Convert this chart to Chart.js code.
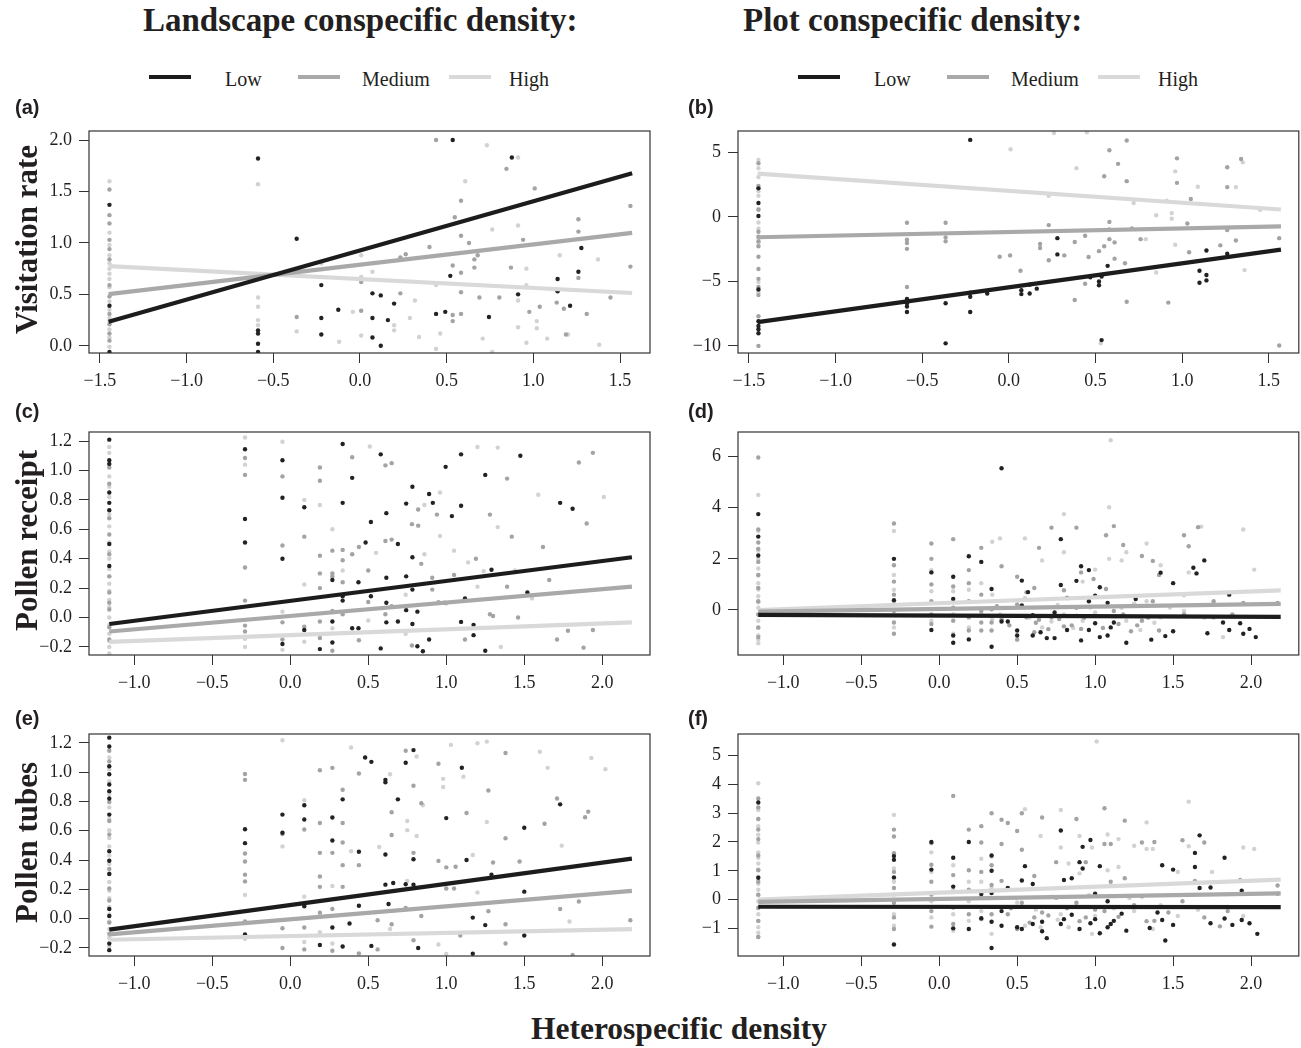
<!DOCTYPE html>
<html>
<head>
<meta charset="utf-8">
<script src="https://cdn.jsdelivr.net/npm/chart.js@4.4.0/dist/chart.umd.min.js"></script>
<style>
body{margin:0;background:#fff;width:1301px;height:1048px;position:relative;overflow:hidden;color:#231f20;}
canvas{position:absolute;}
.t{position:absolute;white-space:nowrap;font-family:"Liberation Serif",serif;}
.ttl{font-weight:bold;font-size:33px;line-height:33px;top:4px;}
.leg{font-size:20px;line-height:20px;top:69px;}
.ln{position:absolute;height:4px;top:75px;}
.lab{position:absolute;font-family:"Liberation Sans",Arial,sans-serif;font-weight:bold;font-size:20px;line-height:20px;}
.yt{font-weight:bold;font-size:31px;line-height:31px;width:300px;text-align:center;transform:rotate(-90deg);}
</style>
</head>
<body>

<div class="t ttl" style="left:143px">Landscape conspecific density:</div>
<div class="t ttl" style="left:743px">Plot conspecific density:</div>

<div class="ln" style="left:149px;width:42px;background:#1c1c1c"></div>
<div class="t leg" style="left:225px">Low</div>
<div class="ln" style="left:298px;width:42px;background:#a9a9a9"></div>
<div class="t leg" style="left:362px">Medium</div>
<div class="ln" style="left:449px;width:42px;background:#d9d9d9"></div>
<div class="t leg" style="left:509px">High</div>

<div class="ln" style="left:798px;width:42px;background:#1c1c1c"></div>
<div class="t leg" style="left:874px">Low</div>
<div class="ln" style="left:947px;width:42px;background:#a9a9a9"></div>
<div class="t leg" style="left:1011px">Medium</div>
<div class="ln" style="left:1098px;width:42px;background:#d9d9d9"></div>
<div class="t leg" style="left:1158px">High</div>

<canvas id="pa" width="655" height="280" style="left:0;top:115px"></canvas>
<canvas id="pb" width="652" height="280" style="left:649px;top:115px"></canvas>
<canvas id="pc" width="655" height="281" style="left:0;top:416px"></canvas>
<canvas id="pd" width="652" height="281" style="left:649px;top:416px"></canvas>
<canvas id="pe" width="655" height="280" style="left:0;top:718px"></canvas>
<canvas id="pf" width="652" height="280" style="left:649px;top:718px"></canvas>

<div class="lab" style="left:15px;top:97px">(a)</div>
<div class="lab" style="left:688px;top:97px">(b)</div>
<div class="lab" style="left:15px;top:401px">(c)</div>
<div class="lab" style="left:688px;top:401px">(d)</div>
<div class="lab" style="left:15px;top:708px">(e)</div>
<div class="lab" style="left:688px;top:708px">(f)</div>

<div class="t yt" style="left:-124px;top:224px">Visitation rate</div>
<div class="t yt" style="left:-124px;top:525px">Pollen receipt</div>
<div class="t yt" style="left:-124px;top:827px">Pollen tubes</div>

<div class="t" style="left:479px;width:400px;text-align:center;top:1013px;font-weight:bold;font-size:31.5px;line-height:32px">Heterospecific density</div>

<script>
// ---- tick values ----
var xTicksTop = [-1.5, -1, -0.5, 0, 0.5, 1, 1.5];
var xTicksLow = [-1, -0.5, 0, 0.5, 1, 1.5, 2];
var yTicksA = [0, 0.5, 1, 1.5, 2];
var yTicksB = [-10, -5, 0, 5];
var yTicksC = [-0.2, 0, 0.2, 0.4, 0.6, 0.8, 1.0, 1.2];
var yTicksD = [0, 2, 4, 6];
var yTicksE = [-0.2, 0, 0.2, 0.4, 0.6, 0.8, 1.0, 1.2];
var yTicksF = [-1, 0, 1, 2, 3, 4, 5];

// ---- (a) visitation rate, landscape ----
var a_low = [[-1.445,1.37],[-1.445,0.39],[-1.445,-0.06],[-0.588,1.82],[-0.588,0.15],[-0.588,0.12],[-0.588,0.02],[-0.588,-0.06],
  [-0.365,1.04],[-0.223,0.59],[-0.223,0.27],[-0.223,0.11],[-0.125,0.35],[0.072,0.51],[0.072,0.27],[0.072,0.08],[0.12,0.49],[0.12,0.0],
  [0.161,0.25],[0.197,0.41],[0.439,0.31],[0.492,0.33],[0.521,0.68],[0.535,2.0],[0.744,0.28],[0.876,1.83],[0.912,0.50],
  [1.14,0.65],[1.14,0.53],[1.212,0.39],[1.26,0.72],[1.277,0.95]];
var a_med = [[-1.445,1.52],[-1.445,1.27],[-1.445,1.19],[-1.445,1.03],[-1.445,0.94],[-1.445,0.84],[-1.445,0.59],[-1.445,0.48],[-1.445,0.31],
  [-1.445,0.21],[-1.445,0.12],[-1.445,0.05],[-0.365,0.28],[0.007,0.62],[0.007,0.34],[0.233,0.86],[0.233,0.51],[0.264,0.89],[0.401,0.96],
  [0.439,2.0],[0.535,0.78],[0.535,0.30],[0.535,0.24],[0.547,1.25],[0.583,1.41],[0.583,1.07],[0.583,0.71],[0.583,0.52],[0.583,0.31],
  [0.629,1.0],[0.66,0.84],[0.66,0.76],[0.679,0.88],[0.689,0.47],[0.804,0.47],[0.845,1.72],[0.871,0.76],[0.941,1.03],[0.977,0.33],
  [1.008,1.53],[1.037,0.38],[1.135,0.42],[1.176,0.36],[1.188,0.11],[1.26,1.23],[1.26,1.11],[1.26,0.66],[1.308,0.31],[1.445,0.47],
  [1.56,1.36],[1.56,0.77]];
var a_high = [[-1.445,1.6],[-1.445,1.1],[-1.445,0.88],[-1.445,0.75],[-1.445,0.65],[-1.445,0.43],[-1.445,0.35],[-1.445,0.24],[-1.445,-0.01],
  [-1.445,0.98],[-1.445,0.8],[-1.445,0.7],[-1.445,0.57],[-1.445,0.27],[-1.445,0.16],[-1.445,0.08],
  [-0.588,1.57],[-0.588,0.47],[-0.588,0.38],[-0.588,0.25],[-0.588,0.2],[-0.365,0.14],[-0.223,0.8],[-0.12,0.04],[-0.041,0.33],
  [0.007,0.88],[0.007,0.67],[0.007,0.10],[0.072,0.72],[0.197,0.15],[0.197,0.2],[0.288,0.27],[0.317,0.44],[0.341,0.085],
  [0.439,0.59],[0.439,-0.03],[0.463,0.12],[0.607,1.6],[0.708,0.07],[0.732,1.95],[0.763,1.13],[0.763,-0.06],[0.912,1.83],
  [0.912,1.17],[0.912,0.44],[0.912,0.18],[0.96,0.75],[0.96,0.59],[0.96,0.03],[1.02,0.24],[1.02,0.17],[1.08,0.07],
  [1.152,0.88],[1.2,0.11],[1.373,0.84],[1.38,0.01]];
var a_fit_low = [[-1.45,0.234],[1.57,1.677]];
var a_fit_med = [[-1.45,0.503],[1.57,1.098]];
var a_fit_high = [[-1.45,0.775],[1.57,0.513]];

// ---- (b) visitation rate, plot ----
var b_low = [[-1.445,2.22],[-1.445,1.09],[-1.445,0.08],[-1.445,-5.63],[-1.445,-8.08],[-1.445,-8.46],[-1.445,-8.71],[-1.445,-9.02],
  [-0.588,-6.36],[-0.588,-6.69],[-0.588,-6.94],[-0.588,-7.37],[-0.365,-6.69],[-0.365,-9.8],[-0.223,5.98],[-0.223,-5.88],
  [-0.223,-6.19],[-0.223,-7.37],[-0.125,-5.93],[0.072,-5.68],[0.072,-5.98],[0.12,-5.93],[0.12,-5.25],[0.161,-5.56],
  [0.28,-1.64],[0.28,-2.9],[0.47,-4.67],[0.52,-5.0],[0.52,-5.3],[0.535,-4.62],[0.535,-9.55],[0.57,-3.79],
  [1.1,-4.17],[1.1,-5.1],[1.14,-2.6],[1.14,-4.5],[1.14,-4.92],[1.26,-2.85]];
var b_med = [[-1.445,4.17],[-1.445,2.4],[-1.445,0.56],[-1.445,-1.14],[-1.445,-1.52],[-1.445,-1.89],[-1.445,-2.27],[-1.445,-3.08],
  [-1.445,-4.04],[-1.445,-4.8],[-1.445,-5.43],[-1.445,-6.06],[-1.445,-7.7],[-1.445,-10.0],[-0.588,-0.45],[-0.588,-1.77],
  [-0.588,-2.02],[-0.588,-2.47],[-0.588,-5.43],[-0.365,-0.45],[-0.365,-1.59],[-0.365,-1.89],[-0.053,-3.08],[0.007,-2.98],
  [0.067,-4.17],[0.18,-2.1],[0.18,-2.4],[0.23,-0.63],[0.23,-3.36],[0.32,-2.98],[0.38,-1.94],[0.38,-6.44],[0.44,-1.46],
  [0.44,-5.18],[0.46,-3.1],[0.52,-2.65],[0.55,3.16],[0.55,-2.27],[0.58,5.18],[0.58,-0.38],[0.58,-0.96],[0.58,-1.72],
  [0.61,-1.97],[0.61,-3.23],[0.63,4.12],[0.67,-3.59],[0.68,5.93],[0.68,2.78],[0.68,-6.57],[0.71,-0.88],[0.76,-1.72],
  [0.92,-6.64],[0.97,4.55],[0.97,2.65],[1.03,-0.5],[1.04,-2.73],[1.05,1.39],[1.22,-2.2],[1.26,3.86],[1.26,2.32],
  [1.26,-1.01],[1.31,-1.82],[1.34,4.5],[1.56,-1.64],[1.56,-9.97]];
var b_high = [[-1.445,4.42],[-1.445,3.79],[-1.445,1.64],[-1.445,0.63],[-1.445,-0.43],[-1.445,-1.64],[-1.445,-5.05],[-1.445,-5.86],
  [-1.445,3.1],[-1.445,2.0],[-1.445,-0.9],[-1.445,-2.0],
  [0.01,5.25],[0.23,1.64],[0.26,6.52],[0.39,3.79],[0.45,6.57],[0.53,-9.8],[0.72,1.09],[0.79,-1.72],[0.85,0.13],[0.85,-4.3],
  [0.91,1.26],[0.94,0.3],[0.94,-0.13],[0.96,3.54],[0.96,-2.15],[1.09,2.35],[1.31,2.32],[1.35,4.24],[1.36,-4.12],[1.45,0.56]];
var b_fit_low = [[-1.45,-8.16],[1.57,-2.53]];
var b_fit_med = [[-1.45,-1.57],[1.57,-0.73]];
var b_fit_high = [[-1.45,3.36],[1.57,0.58]];

// ---- (c) pollen receipt, landscape ----
var c_low = [[-1.16,1.21],[-1.16,1.07],[-1.16,1.045],[-1.16,0.85],[-1.16,0.78],[-1.16,0.73],[-1.16,0.50],[-1.16,0.35],
  [-0.29,1.145],[-0.29,0.67],[-0.29,0.51],[-0.05,1.07],[-0.05,0.815],[-0.05,0.40],[-0.05,-0.18],[0.09,0.75],[0.09,-0.085],
  [0.19,-0.215],[0.27,0.255],[0.27,-0.027],[0.27,-0.17],[0.336,1.18],[0.336,0.78],[0.336,0.145],[0.336,0.115],
  [0.397,0.95],[0.397,-0.073],[0.437,0.24],[0.437,-0.073],[0.483,0.51],[0.517,0.65],[0.517,0.145],[0.58,1.11],[0.58,-0.21],
  [0.616,0.71],[0.616,0.27],[0.616,0.10],[0.616,-0.033],[0.69,0.50],[0.69,-0.027],[0.743,0.775],[0.743,0.28],[0.743,0.05],
  [0.783,0.89],[0.783,0.41],[0.783,0.19],[0.783,-0.044],[0.815,0.04],[0.815,-0.195],[0.85,-0.23],[0.89,0.84],[0.89,-0.15],
  [0.914,0.78],[0.996,1.025],[1.036,0.69],[1.095,1.11],[1.095,0.76],[1.095,-0.03],[1.12,0.13],[1.175,-0.05],[1.175,-0.12],
  [1.25,0.97],[1.25,-0.226],[1.29,0.325],[1.475,1.1],[1.52,0.17],[1.73,0.78],[1.81,0.74]];
var c_med = [[-1.16,1.02],[-1.16,0.91],[-1.16,0.675],[-1.16,0.565],[-1.16,0.43],[-1.16,0.28],[-1.16,0.17],[-1.16,0.1],[-1.16,0.055],
  [-1.16,-0.066],[-1.16,-0.15],[-0.29,1.085],[-0.29,0.97],[-0.29,0.34],[-0.29,0.115],[-0.29,-0.055],[-0.29,-0.095],
  [-0.05,0.96],[-0.05,0.49],[-0.05,-0.033],[-0.05,-0.15],[0.09,0.55],[0.09,-0.062],[0.19,1.02],[0.19,0.93],[0.19,0.42],
  [0.19,0.30],[0.19,0.2],[0.19,-0.027],[0.19,-0.14],[0.27,0.455],[0.27,0.30],[0.27,0.28],[0.27,0.044],[0.27,-0.226],
  [0.336,0.46],[0.336,0.39],[0.336,0.24],[0.336,0.022],[0.397,1.09],[0.397,0.43],[0.44,0.48],[0.44,-0.155],[0.5,0.106],
  [0.5,0.32],[0.61,1.035],[0.61,0.52],[0.61,0.022],[0.65,1.05],[0.65,0.53],[0.65,0.077],[0.78,0.635],[0.78,-0.19],
  [0.82,0.735],[0.82,0.625],[0.84,0.365],[0.91,0.19],[0.91,0.27],[0.94,0.70],[0.95,0.104],[0.99,0.1],[1.05,0.29],
  [1.12,0.12],[1.12,-0.15],[1.19,0.40],[1.28,0.70],[1.28,0.022],[1.30,0.01],[1.39,0.945],[1.39,0.21],[1.42,0.55],
  [1.46,0.0],[1.62,0.48],[1.66,0.255],[1.71,-0.15],[1.78,-0.09],[1.85,1.055],[1.88,-0.205],[1.90,0.64],[1.94,1.12],[1.94,-0.085]];
var c_high = [[-1.16,0.96],[-1.16,0.82],[-1.16,0.62],[-1.16,0.51],[-1.16,0.40],[-1.16,0.33],[-1.16,0.23],[-1.16,0.12],[-1.16,0.0],
  [-1.16,-0.11],[-1.16,-0.2],[-1.16,-0.245],[-1.16,1.16],[-1.16,1.12],[-1.16,0.89],[-1.16,0.70],[-1.16,0.45],[-1.16,0.28],
  [-1.16,0.18],[-1.16,0.07],[-1.16,-0.05],[-1.16,-0.16],
  [-0.29,1.225],[-0.29,1.04],[-0.29,-0.145],[-0.29,-0.2],[-0.05,1.196],[-0.05,0.04],
  [-0.05,-0.22],[0.09,0.80],[0.09,0.225],[0.09,-0.165],[0.19,0.765],[0.19,-0.133],[0.27,0.6],[0.27,-0.073],[0.336,0.32],
  [0.5,-0.02],[0.51,1.163],[0.55,0.44],[0.74,0.155],[0.74,-0.11],[0.86,0.765],[0.86,0.43],[0.96,0.85],[0.96,0.555],[1.0,0.095],
  [1.05,0.455],[1.14,0.375],[1.2,1.16],[1.2,0.21],[1.24,0.315],[1.33,1.156],[1.33,0.615],[1.35,-0.2],[1.44,0.32],[1.55,0.13],
  [1.59,0.835],[2.01,0.82]];
var c_fit_low = [[-1.16,-0.044],[2.19,0.41]];
var c_fit_med = [[-1.16,-0.095],[2.19,0.21]];
var c_fit_high = [[-1.16,-0.166],[2.19,-0.033]];

// ---- (d) pollen receipt, plot ----
var d_low = [[-1.16,3.75],[-1.16,2.87],[-1.16,2.13],[-0.29,2.0],[-0.29,0.38],[-0.05,1.47],[-0.05,-0.78],[0.09,1.3],[0.09,0.43],
  [0.09,-1.0],[0.09,-1.28],[0.19,2.1],[0.19,-1.15],[0.27,1.88],[0.336,0.82],[0.336,-1.44],[0.40,5.54],[0.40,-0.45],[0.44,-0.45],
  [0.5,-0.8],[0.5,-1.0],[0.53,1.15],[0.53,0.18],[0.57,0.7],[0.6,-1.0],[0.6,-0.2],[0.65,-0.87],[0.69,-1.1],[0.74,-1.1],[0.74,-0.1],
  [0.78,0.98],[0.78,2.77],[0.82,-0.78],[0.82,0.47],[0.88,1.14],[0.88,-0.23],[0.91,-1.19],[0.91,1.71],[0.96,1.56],[0.96,0.34],
  [0.96,-0.78],[1.0,-0.52],[1.0,0.56],[1.03,0.89],[1.03,-1.06],[1.08,-1.0],[1.08,0.28],[1.1,-0.68],[1.12,-0.49],[1.2,-1.28],
  [1.26,0.43],[1.36,-1.16],[1.42,1.46],[1.45,-1.02],[1.5,1.05],[1.5,-0.83],[1.63,1.65],[1.65,1.43],[1.7,1.94],[1.72,-0.91],
  [1.82,-0.49],[1.86,0.6],[1.86,-0.78],[1.93,-0.52],[1.95,-0.93],[1.99,-0.74],[2.03,-1.06]];
var d_med = [[-1.16,5.96],[-1.16,3.15],[-1.16,2.64],[-1.16,2.39],[-1.16,1.88],[-1.16,1.37],[-1.16,0.86],[-1.16,0.34],[-1.16,-0.17],
  [-1.16,-0.68],[-1.16,-1.06],[-0.29,3.38],[-0.29,1.75],[-0.29,1.11],[-0.29,0.6],[-0.29,-0.04],[-0.29,-0.49],[-0.29,-0.93],
  [-0.05,2.6],[-0.05,2.0],[-0.05,1.0],[-0.05,0.34],[-0.05,-0.17],[-0.05,-0.55],[0.09,2.77],[0.09,0.92],[0.09,0.09],[0.09,-0.42],
  [0.19,1.56],[0.19,1.05],[0.19,0.34],[0.19,-0.29],[0.19,-0.8],[0.27,2.43],[0.27,0.6],[0.27,-0.04],[0.27,-0.49],[0.27,-0.8],
  [0.336,0.03],[0.336,-0.49],[0.336,-0.8],[0.37,0.15],[0.4,1.71],[0.4,-0.36],[0.5,1.3],[0.5,0.22],[0.5,-1.16],[0.56,0.69],
  [0.56,-0.29],[0.61,0.86],[0.61,-0.87],[0.64,2.43],[0.64,-0.38],[0.72,3.22],[0.72,-0.29],[0.8,0.77],[0.8,-0.64],[0.88,3.22],
  [0.88,0.09],[0.91,1.47],[0.91,-0.74],[0.99,1.21],[0.99,-0.23],[1.07,2.92],[1.07,0.82],[1.12,3.28],[1.12,-0.04],[1.18,2.54],
  [1.18,-0.17],[1.23,-0.83],[1.3,2.11],[1.3,-0.42],[1.37,1.92],[1.37,0.34],[1.41,1.37],[1.41,-0.8],[1.57,2.92],[1.57,-0.17],
  [1.6,2.49],[1.66,3.24],[1.76,0.34],[1.76,-0.29],[1.88,-0.17],[1.95,0.28],[2.17,0.28],
  [0.45,-0.6],[0.62,-0.5],[0.7,-0.75],[0.77,-0.35],[0.85,-0.6],[0.93,-0.3],[1.05,-0.7],[1.15,-0.55],[1.27,-0.6],[1.34,-0.3]];
var d_high = [[-1.16,4.5],[-1.16,2.32],[-1.16,1.62],[-1.16,1.05],[-1.16,0.54],[-1.16,0.09],[-1.16,-0.42],[-1.16,-1.0],[-1.16,-1.3],
  [-1.16,3.1],[-1.16,2.0],[-1.16,1.35],[-1.16,0.8],[-1.16,0.3],[-1.16,-0.2],[-1.16,-0.7],[-1.16,-1.15],
  [-0.29,3.09],[-0.29,1.37],[-0.29,0.79],[-0.29,0.28],[-0.29,-0.68],[-0.05,1.56],[-0.05,0.73],[-0.05,-0.42],[0.09,0.73],
  [0.09,-0.17],[0.09,-0.93],[0.19,0.79],[0.19,-0.68],[0.27,1.05],[0.27,-0.17],[0.34,2.67],[0.34,0.6],[0.34,-0.36],[0.39,2.8],
  [0.39,-0.17],[0.55,2.8],[0.55,0.47],[0.66,1.94],[0.66,-0.68],[0.8,3.75],[0.8,2.26],[0.8,-0.17],[0.92,1.11],[0.92,-0.42],
  [1.0,1.58],[1.0,-0.1],[1.09,4.02],[1.09,2.0],[1.1,6.64],[1.17,1.94],[1.17,0.09],[1.2,2.26],[1.2,-0.42],[1.29,-0.78],
  [1.33,2.6],[1.33,0.34],[1.42,1.75],[1.42,-0.29],[1.57,0.57],[1.57,-0.04],[1.6,1.47],[1.68,3.26],[1.82,-1.06],[1.95,3.15],[2.02,1.58],
  [0.58,-0.3],[0.72,-0.45],[0.76,0.2],[0.86,-0.7],[0.97,0.1],[1.13,-0.25],[1.25,0.25],[1.38,-0.5],[1.48,0.1],[1.7,-0.3]];
var d_fit_low = [[-1.16,-0.19],[2.19,-0.27]];
var d_fit_med = [[-1.16,-0.06],[2.19,0.24]];
var d_fit_high = [[-1.16,0.0],[2.19,0.77]];

// ---- (e) pollen tubes, landscape ----
var e_low = [[-1.16,1.235],[-1.16,1.175],[-1.16,1.04],[-1.16,0.985],[-1.16,0.915],[-1.16,0.87],[-1.16,0.82],[-1.16,0.71],[-1.16,0.46],
  [-1.16,0.395],[-1.16,0.305],[-1.16,0.066],[-1.16,0.018],[-1.16,-0.17],[-1.16,-0.215],[-0.29,0.61],[-0.29,0.515],[-0.29,-0.108],
  [-0.05,0.71],[-0.05,0.586],[0.09,0.774],[0.09,0.677],[0.09,0.084],[0.19,-0.18],[0.27,0.69],[0.27,0.533],[0.27,-0.06],
  [0.336,0.814],[0.336,-0.19],[0.38,-0.033],[0.44,0.456],[0.44,0.088],[0.48,1.1],[0.52,1.07],[0.52,-0.186],[0.61,0.947],
  [0.61,0.93],[0.61,0.438],[0.61,0.232],[0.63,0.1],[0.66,0.243],[0.69,0.814],[0.74,1.064],[0.74,0.235],[0.79,1.15],[0.79,0.405],
  [0.79,0.232],[0.82,-0.2],[1.0,0.686],[1.1,1.03],[1.13,0.4],[1.17,0.007],[1.17,-0.24],[1.25,-0.044],[1.29,0.3],[1.5,0.62],
  [1.5,0.184],[1.5,-0.115],[1.73,0.78]];
var e_med = [[-1.16,1.146],[-1.16,1.073],[-1.16,0.796],[-1.16,0.666],[-1.16,0.575],[-1.16,0.339],[-1.16,0.206],[-1.16,0.124],
  [-1.16,-0.027],[-1.16,-0.104],[-0.29,0.987],[-0.29,0.947],[-0.29,0.445],[-0.29,0.39],[-0.29,0.3],[-0.29,0.254],[-0.29,-0.02],
  [-0.05,0.577],[-0.05,-0.066],[-0.05,-0.2],[0.09,0.608],[0.09,-0.06],[0.09,-0.21],[0.19,1.013],[0.19,0.653],[0.19,0.449],
  [0.19,0.288],[0.19,0.217],[0.19,0.04],[0.27,1.029],[0.27,0.449],[0.27,0.066],[0.27,-0.219],[0.336,0.88],[0.336,0.653],
  [0.336,0.52],[0.336,0.365],[0.336,0.217],[0.44,0.99],[0.44,0.365],[0.44,-0.237],[0.56,-0.011],[0.56,-0.21],[0.65,0.571],
  [0.65,0.726],[0.65,-0.038],[0.74,1.146],[0.74,0.073],[0.79,0.907],[0.79,0.449],[0.79,-0.148],[0.84,0.788],[0.84,0.018],
  [0.95,1.057],[0.95,0.394],[1.0,0.35],[1.0,0.206],[1.05,0.206],[1.06,0.354],[1.09,-0.115],[1.13,0.721],[1.27,0.874],
  [1.27,0.051],[1.3,0.383],[1.38,1.13],[1.38,0.549],[1.38,-0.038],[1.38,-0.17],[1.47,0.39],[1.63,0.648],[1.71,0.82],
  [1.73,0.066],[1.81,-0.248],[1.85,0.117],[1.89,0.692],[1.91,0.73],[2.18,-0.011]];
var e_high = [[-1.16,1.1],[-1.16,0.936],[-1.16,0.759],[-1.16,0.604],[-1.16,0.493],[-1.16,0.372],[-1.16,0.25],[-1.16,0.139],
  [-1.16,0.029],[-1.16,-0.071],[-1.16,-0.192],[-1.16,1.02],[-1.16,0.85],[-1.16,0.68],[-1.16,0.55],[-1.16,0.43],[-1.16,0.31],
  [-1.16,0.19],[-1.16,0.08],[-1.16,-0.02],[-1.16,-0.13],
  [-0.29,0.162],[-0.29,-0.137],[-0.05,1.217],[-0.05,0.493],[0.09,0.808],[0.09,0.15],
  [0.09,-0.159],[0.19,-0.093],[0.27,0.223],[0.27,-0.17],[0.39,1.168],[0.39,0.46],[0.57,0.489],[0.64,0.985],[0.64,-0.071],
  [0.75,0.666],[0.75,0.604],[0.75,0.257],[0.81,1.106],[0.81,0.564],[0.85,0.774],[0.95,-0.177],[0.98,0.954],[0.98,0.898],
  [1.0,-0.241],[1.03,1.186],[1.11,0.969],[1.17,0.434],[1.2,1.197],[1.2,0.179],[1.26,1.208],[1.26,0.659],[1.6,1.139],
  [1.65,1.029],[1.74,0.498],[1.79,-0.02],[1.93,1.097],[2.02,1.02]];
var e_fit_low = [[-1.16,-0.075],[2.19,0.41]];
var e_fit_med = [[-1.16,-0.108],[2.19,0.19]];
var e_fit_high = [[-1.16,-0.144],[2.19,-0.071]];

// ---- (f) pollen tubes, plot ----
var f_low = [[-1.16,3.37],[-1.16,0.76],[-0.29,1.51],[-0.29,1.38],[-0.29,0.77],[-0.29,-1.56],[-0.05,2.0],[-0.05,1.04],[0.09,1.45],
  [0.09,0.45],[0.09,-1.0],[0.19,2.0],[0.19,-1.02],[0.27,0.19],[0.27,-0.65],[0.336,1.53],[0.336,1.0],[0.336,0.23],[0.336,-0.77],
  [0.336,-1.68],[0.4,-0.4],[0.4,-0.91],[0.44,0.4],[0.5,-0.96],[0.53,0.66],[0.53,-1.02],[0.55,1.16],[0.6,0.54],[0.6,-0.85],
  [0.66,-0.77],[0.66,-1.1],[0.69,-1.34],[0.78,2.4],[0.78,-0.85],[0.8,0.68],[0.8,-0.68],[0.85,0.74],[0.85,-0.53],[0.9,-1.02],
  [0.9,1.3],[0.92,1.83],[0.92,1.08],[0.97,2.07],[0.97,-0.82],[1.0,0.2],[1.0,-0.68],[1.03,-1.17],[1.03,1.16],[1.08,-0.06],
  [1.08,-0.96],[1.1,-0.85],[1.12,-0.74],[1.17,-0.49],[1.2,-1.08],[1.35,-0.99],[1.4,-0.45],[1.43,1.19],[1.43,-0.71],[1.45,-1.42],
  [1.5,1.04],[1.5,-0.88],[1.64,1.13],[1.64,1.62],[1.67,2.23],[1.67,0.4],[1.74,0.42],[1.74,-0.82],[1.83,1.45],[1.83,-0.66],
  [1.88,-0.88],[1.94,0.31],[1.94,-0.71],[1.99,-0.82],[2.04,-1.19]];
var f_med = [[-1.16,3.51],[-1.16,3.2],[-1.16,2.8],[-1.16,2.43],[-1.16,2.1],[-1.16,1.53],[-1.16,1.02],[-1.16,0.62],[-1.16,0.17],
  [-1.16,-0.28],[-1.16,-0.74],[-1.16,-1.3],[-0.29,2.43],[-0.29,2.19],[-0.29,1.61],[-0.29,0.96],[-0.29,0.4],[-0.29,-0.11],
  [-0.29,-0.62],[-0.29,-1.02],[-0.05,1.96],[-0.05,1.21],[-0.05,0.62],[-0.05,0.17],[-0.05,-0.4],[-0.05,-0.94],[0.09,3.6],
  [0.09,0.85],[0.09,-0.28],[0.09,-0.85],[0.19,2.43],[0.19,1.02],[0.19,0.34],[0.19,-0.51],[0.27,2.55],[0.27,1.98],[0.27,0.96],
  [0.27,0.06],[0.27,-0.68],[0.336,3.0],[0.336,1.19],[0.336,0.51],[0.336,-0.51],[0.4,2.77],[0.4,1.93],[0.4,0.65],[0.44,2.66],
  [0.44,-0.51],[0.5,2.38],[0.5,-1.02],[0.53,3.0],[0.53,1.73],[0.53,-0.11],[0.61,0.82],[0.61,-0.62],[0.66,2.85],[0.66,-0.45],
  [0.75,1.3],[0.75,0.06],[0.88,2.8],[0.88,-0.11],[0.94,1.3],[0.94,-0.62],[1.06,3.17],[1.06,1.93],[1.06,-0.4],[1.1,1.93],
  [1.1,0.62],[1.19,2.74],[1.19,0.74],[1.3,1.98],[1.3,0.11],[1.38,2.0],[1.38,-0.74],[1.56,2.06],[1.56,-0.06],[1.64,0.65],
  [1.7,1.98],[1.7,-0.62],[1.8,-0.93],[1.85,-0.4],[1.93,0.68],[2.17,0.49],[2.17,0.2],
  [0.46,-0.3],[0.58,-0.8],[0.7,-0.55],[0.82,-0.3],[0.9,-0.75],[1.0,-0.35],[1.15,-0.6],[1.25,-0.2],[1.33,-0.75],[1.47,-0.45]];
var f_high = [[-1.16,4.04],[-1.16,3.11],[-1.16,2.55],[-1.16,1.98],[-1.16,1.64],[-1.16,1.25],[-1.16,0.79],[-1.16,0.34],[-1.16,-0.06],
  [-1.16,-0.51],[-1.16,-0.96],[-1.16,-1.3],[-1.16,2.8],[-1.16,2.25],[-1.16,1.45],[-1.16,1.05],[-1.16,0.55],[-1.16,0.15],
  [-1.16,-0.3],[-1.16,-0.75],[-1.16,-1.15],
  [-0.29,2.94],[-0.29,1.59],[-0.29,1.08],[-0.29,0.62],[-0.29,0.17],[-0.29,-0.51],
  [-0.29,-0.91],[-0.05,1.64],[-0.05,0.96],[-0.05,-0.06],[-0.05,-0.62],[0.09,1.19],[0.09,0.34],[0.09,-0.51],[0.09,-1.08],
  [0.19,0.62],[0.19,-0.06],[0.19,-0.74],[0.27,1.42],[0.27,0.62],[0.27,-0.4],[0.336,1.49],[0.336,0.4],[0.336,-1.19],[0.55,3.14],
  [0.55,-0.91],[0.65,2.21],[0.65,-0.96],[0.78,3.11],[0.78,1.81],[0.78,-0.51],[0.83,1.25],[0.83,-0.96],[0.9,2.21],[0.9,0.91],
  [0.98,1.81],[0.98,-1.19],[1.0,-0.57],[1.01,5.49],[1.08,2.26],[1.08,1.02],[1.15,2.1],[1.15,1.13],[1.25,1.87],[1.25,-0.4],
  [1.33,2.68],[1.33,1.76],[1.37,1.76],[1.37,-1.02],[1.53,0.96],[1.53,-0.57],[1.6,3.4],[1.6,1.85],[1.75,0.96],[1.95,1.81],
  [1.95,-0.57],[2.02,1.76],
  [0.5,-0.1],[0.62,-0.35],[0.72,0.1],[0.76,-0.7],[0.87,-0.25],[0.96,0.15],[1.12,-0.3],[1.22,0.05],[1.42,-0.2],[1.66,-0.35]];
var f_fit_low = [[-1.16,-0.25],[2.19,-0.26]];
var f_fit_med = [[-1.16,-0.08],[2.19,0.215]];
var f_fit_high = [[-1.16,0.0],[2.19,0.69]];

// colours
var PT = ['#222222', '#a3a3a3', '#d2d2d2'];
var LN = ['#1c1c1c', '#a9a9a9', '#d9d9d9'];

function xy(arr){ return arr.map(function(p){ return {x: p[0], y: p[1]}; }); }
function fmt(v, d){ return (v < -1e-9 ? '\u2212' : '') + Math.abs(v).toFixed(d); }

var boxPlugin = {
  id: 'box',
  afterDraw: function(chart){
    var a = chart.chartArea, c = chart.ctx;
    c.save();
    c.strokeStyle = '#333';
    c.lineWidth = 1.2;
    c.strokeRect(a.left, a.top, a.right - a.left, a.bottom - a.top);
    c.restore();
  }
};

function panel(id, pts, fits, xr, yr, xt, yt, ydec, padTop, padRight){
  var ds = [];
  // fitted lines on top, low first
  for (var i = 0; i < 3; i++) {
    ds.push({data: xy(fits[i]), showLine: true, borderColor: LN[i], borderWidth: 4.2,
      pointRadius: 0, borderCapStyle: 'butt', order: i});
  }
  for (var j = 0; j < 3; j++) {
    ds.push({data: xy(pts[j]), showLine: false, backgroundColor: PT[j], pointRadius: 2.2,
      pointBorderWidth: 0, pointHoverRadius: 2.2, order: 3 + j});
  }
  var tickFont = {family: 'Liberation Serif', size: 18, lineHeight: 1};
  new Chart(document.getElementById(id).getContext('2d'), {
    type: 'scatter',
    data: {datasets: ds},
    options: {
      responsive: false, animation: false, devicePixelRatio: 1,
      layout: {padding: {top: padTop, right: padRight, left: 0, bottom: 0}},
      plugins: {legend: {display: false}, tooltip: {enabled: false}},
      events: [],
      scales: {
        x: {type: 'linear', min: xr[0], max: xr[1],
          afterBuildTicks: function(s){ s.ticks = xt.map(function(v){ return {value: v}; }); },
          afterFit: function(s){ s.height = 42; },
          grid: {drawOnChartArea: false, drawTicks: true, tickLength: 10, color: '#333', lineWidth: 1},
          border: {display: false},
          ticks: {font: tickFont, color: '#231f20', padding: 9, maxRotation: 0, autoSkip: false,
            callback: function(v){ return fmt(v, 1); }}
        },
        y: {type: 'linear', min: yr[0], max: yr[1],
          afterBuildTicks: function(s){ s.ticks = yt.map(function(v){ return {value: v}; }); },
          afterFit: function(s){ s.width = 89; },
          grid: {drawOnChartArea: false, drawTicks: true, tickLength: 10, color: '#333', lineWidth: 1},
          border: {display: false},
          ticks: {font: tickFont, color: '#231f20', padding: 7, autoSkip: false,
            callback: function(v){ return fmt(v, ydec); }}
        }
      }
    },
    plugins: [boxPlugin]
  });
}

var xrTop = [-1.563, 1.673];
var xrLow = [-1.29, 2.306];

panel('pa', [a_low, a_med, a_high], [a_fit_low, a_fit_med, a_fit_high], xrTop, [-0.07, 2.088], xTicksTop, yTicksA, 1, 10.7, 5);
panel('pb', [b_low, b_med, b_high], [b_fit_low, b_fit_med, b_fit_high], xrTop, [-10.55, 6.67], xTicksTop, yTicksB, 0, 10.7, 2);
panel('pc', [c_low, c_med, c_high], [c_fit_low, c_fit_med, c_fit_high], xrLow, [-0.255, 1.262], xTicksLow, yTicksC, 1, 10.7, 5);
panel('pd', [d_low, d_med, d_high], [d_fit_low, d_fit_med, d_fit_high], xrLow, [-1.76, 6.96], xTicksLow, yTicksD, 0, 10.7, 2);
panel('pe', [e_low, e_med, e_high], [e_fit_low, e_fit_med, e_fit_high], xrLow, [-0.255, 1.26], xTicksLow, yTicksE, 1, 11, 5);
panel('pf', [f_low, f_med, f_high], [f_fit_low, f_fit_med, f_fit_high], xrLow, [-1.96, 5.75], xTicksLow, yTicksF, 0, 11, 2);
</script>
</body>
</html>
